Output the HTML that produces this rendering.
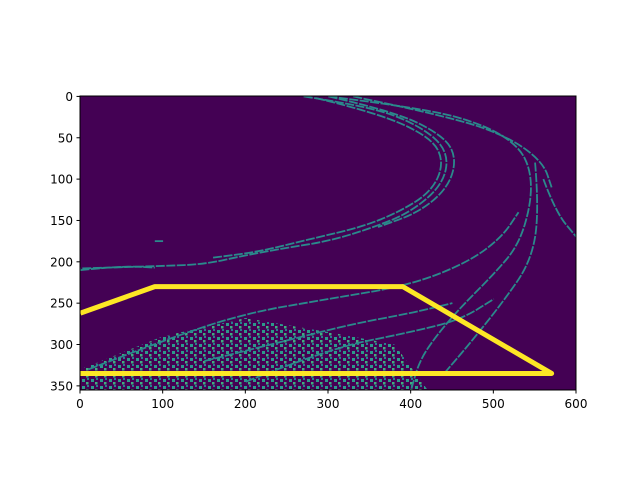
<!DOCTYPE html>
<html><head><meta charset="utf-8"><style>
html,body{margin:0;padding:0;background:#fff;width:640px;height:480px;overflow:hidden}
svg text{font-family:"DejaVu Sans","Liberation Sans",sans-serif;font-size:12px;fill:#000}
</style></head><body>
<svg id="chart" width="640" height="480" xmlns="http://www.w3.org/2000/svg">
<defs>
<pattern id="noise" width="9" height="7" patternUnits="userSpaceOnUse">
<rect x="1" y="1" width="3" height="3" fill="#2d9a8a"/>
<rect x="5" y="4" width="2.5" height="2.5" fill="#3fae80"/>
<rect x="6" y="0" width="2" height="2" fill="#287f8e"/>
</pattern>
<clipPath id="ax"><rect x="80" y="96" width="496" height="294"/></clipPath>
</defs>
<rect x="80" y="96" width="496" height="294" fill="#440154"/>
<g id="edges" clip-path="url(#ax)"></g>
<g id="poly" clip-path="url(#ax)"></g>
<rect x="80" y="96" width="496" height="294" fill="none" stroke="#000" stroke-width="1"/>
<g id="xt"></g><g id="yt"></g>
</svg>
<script>
const xTicks=[0,100,200,300,400,500,600];
const yTicks=[0,50,100,150,200,250,300,350];
const polyX=[0,90,390,570,0];
const polyY=[262,230,230,335,335];
// edge curves (data coords)
const edgeCurves=[
 [[270,0],[350,12],[410,35],[445,65],[440,105],[400,140],[350,160],[300,175],[250,183],[200,192],[150,203],[100,205],[0,208]],
 [[285,2],[360,20],[425,50],[440,80],[425,115],[385,140],[340,158],[280,172],[215,188],[160,195]],
 [[300,0],[380,18],[440,48],[455,75],[445,110],[410,140],[360,158]],
 [[300,0],[420,15],[490,35],[530,60],[545,90],[545,130],[530,180],[500,215],[460,255],[430,290],[410,320],[400,355]],
 [[330,0],[450,25],[520,50],[560,80],[570,110]],
 [[550,80],[555,140],[545,200],[510,250],[470,300],[440,335]],
 [[560,100],[575,140],[600,170]],
 [[10,330],[100,295],[200,262],[300,245],[400,228],[470,200],[510,170],[530,140]],
 [[150,320],[250,295],[330,275],[400,262],[450,250]],
 [[200,345],[300,305],[400,285],[460,270],[500,245]],
 [[0,210],[50,205],[90,207]],
 [[90,175],[100,175]]
];
const sx=v=>80+(v+0.5)*496/600;
const sy=v=>96+(v+0.5)*294/355.5;
const NS='http://www.w3.org/2000/svg';
function smooth(c){
 const p=c.map(q=>[sx(q[0]),sy(q[1])]);
 if(p.length<3) return 'M'+p.map(q=>q.join(',')).join(' L');
 let d='M'+p[0].join(',');
 for(let i=1;i<p.length-1;i++){
  const mx=(p[i][0]+p[i+1][0])/2,my=(p[i][1]+p[i+1][1])/2;
  d+=` Q${p[i][0]},${p[i][1]} ${mx},${my}`;
 }
 d+=' L'+p[p.length-1].join(',');
 return d;
}
const eg=document.getElementById('edges');
const nz=document.createElementNS(NS,'path');
nz.setAttribute('d',`M${sx(0)},${sy(355)} L${sx(0)},${sy(330)} L${sx(100)},${sy(290)} L${sx(200)},${sy(268)} L${sx(300)},${sy(285)} L${sx(380)},${sy(300)} L${sx(420)},${sy(355)} Z`);
nz.setAttribute('fill','url(#noise)');


eg.appendChild(nz);
edgeCurves.forEach((c,i)=>{
 const p=document.createElementNS(NS,'path');
 p.setAttribute('d',smooth(c));
 p.setAttribute('fill','none');p.setAttribute('stroke','#2a8a8c');p.setAttribute('stroke-width','1.8');
 p.setAttribute('stroke-dasharray','9 1.5');
 
 
 eg.appendChild(p);
});
const pl=document.createElementNS(NS,'polyline');
pl.setAttribute('points',polyX.map((x,i)=>sx(x)+','+sy(polyY[i])).join(' '));
pl.setAttribute('fill','none');pl.setAttribute('stroke','#fde725');pl.setAttribute('stroke-width','5');
pl.setAttribute('stroke-linejoin','round');


document.getElementById('poly').appendChild(pl);
const xt=document.getElementById('xt');
xTicks.forEach(v=>{
 const x=80+v*496/600;
 const l=document.createElementNS(NS,'line');
 l.setAttribute('x1',x);l.setAttribute('x2',x);l.setAttribute('y1',390);l.setAttribute('y2',393.5);l.setAttribute('stroke','#000');
 
 
 xt.appendChild(l);
 const t=document.createElementNS(NS,'text');
 t.setAttribute('x',x);t.setAttribute('y',408);t.setAttribute('text-anchor','middle');t.textContent=v;
 
 
 xt.appendChild(t);
});
const yt=document.getElementById('yt');
yTicks.forEach(v=>{
 const y=sy(v);
 const l=document.createElementNS(NS,'line');
 l.setAttribute('x1',76.5);l.setAttribute('x2',80);l.setAttribute('y1',y);l.setAttribute('y2',y);l.setAttribute('stroke','#000');
 
 
 yt.appendChild(l);
 const t=document.createElementNS(NS,'text');
 t.setAttribute('x',73);t.setAttribute('y',y+4.5);t.setAttribute('text-anchor','end');t.textContent=v;
 
 
 yt.appendChild(t);
});
</script>
</body></html>
